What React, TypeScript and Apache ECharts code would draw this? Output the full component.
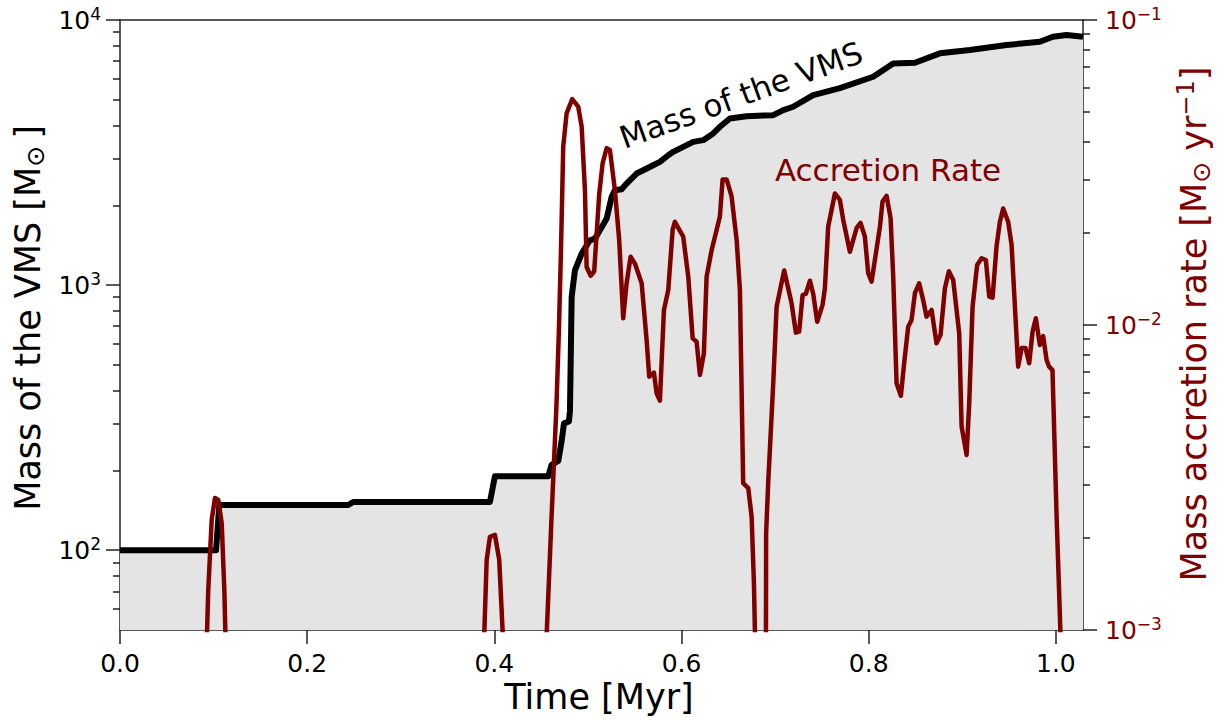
import React, { useEffect, useRef } from 'react';
import * as echarts from 'echarts';

// ---- data ----
const X_MIN = 0;
const X_MAX = 1.029;
const MASS_MIN = 50;
const MASS_MAX = 10000;
const RATE_MIN = 0.001;
const RATE_MAX = 0.1;

const massTime = [
  0, 0.1026, 0.1061, 0.2439, 0.2492, 0.3953, 0.4006, 0.4576, 0.4612, 0.4683,
  0.4719, 0.4744, 0.4797, 0.4808, 0.4826, 0.4861, 0.4933, 0.5021, 0.5075, 0.5128,
  0.52, 0.5253, 0.5288, 0.536, 0.5413, 0.552, 0.5591, 0.5697, 0.5769, 0.5858,
  0.5911, 0.6018, 0.6125, 0.6232, 0.6339, 0.641, 0.6517, 0.6695, 0.698, 0.7087,
  0.7193, 0.7407, 0.7692, 0.8048, 0.8262, 0.8494, 0.8761, 0.9081, 0.9473, 0.9829,
  0.9968, 1.0114, 1.029,
];
const massValue = [
  100, 100, 148, 148, 152, 152, 190, 190, 210, 217,
  258, 301, 306, 336, 902, 1137, 1315, 1476, 1497, 1610,
  1782, 2151, 2280, 2300, 2416, 2635, 2712, 2833, 2915, 3090,
  3182, 3322, 3470, 3522, 3733, 3955, 4252, 4338, 4375, 4571,
  4706, 5208, 5535, 6107, 6858, 6900, 7485, 7707, 8047, 8277,
  8648, 8777, 8650,
];

const rate1Time = [0.0926, 0.0943, 0.098, 0.1015, 0.105, 0.1087, 0.1115, 0.1129];
const rate1Value = [0.0009, 0.00135, 0.0023, 0.00271, 0.00267, 0.00224, 0.00135, 0.0009];

const rate2Time = [0.3889, 0.3918, 0.3953, 0.4006, 0.4052, 0.4095];
const rate2Value = [0.0009, 0.0017, 0.00202, 0.00205, 0.0017, 0.0009];

const rate3Time = [
  0.4555, 0.461, 0.4663, 0.469, 0.4712, 0.4736, 0.4772, 0.4832, 0.4896, 0.4933,
  0.4968, 0.4986, 0.5029, 0.5067, 0.5121, 0.5157, 0.52, 0.5235, 0.5288, 0.5334,
  0.5377, 0.5413, 0.5456, 0.5502, 0.5574, 0.5627, 0.5655, 0.5705, 0.5734, 0.5769,
  0.5812, 0.5858, 0.5905, 0.5929, 0.6018, 0.6072, 0.6119, 0.6161, 0.6197, 0.6239,
  0.6268, 0.6322, 0.6375, 0.641, 0.6439, 0.6482, 0.6535, 0.6589, 0.6624, 0.6659,
  0.6713, 0.6749, 0.6774, 0.6787,
];
const rate3Value = [
  0.0009, 0.0023, 0.00538, 0.00964, 0.0176, 0.0384, 0.0494, 0.055, 0.052, 0.0447,
  0.0277, 0.0155, 0.0145, 0.015, 0.027, 0.0339, 0.038, 0.0375, 0.0277, 0.019,
  0.01052, 0.0137, 0.01675, 0.0159, 0.0137, 0.00893, 0.00677, 0.00698, 0.00597, 0.00565,
  0.0112, 0.013, 0.0205, 0.0218, 0.0195, 0.0144, 0.00904, 0.00882, 0.00686, 0.00807,
  0.0144, 0.0176, 0.0205, 0.0227, 0.03, 0.03, 0.0264, 0.019, 0.013, 0.00303,
  0.00292, 0.00235, 0.00142, 0.0009,
];

const rate4Time = [
  0.6902, 0.6904, 0.6926, 0.698, 0.7016, 0.7097, 0.7176, 0.7222, 0.7257, 0.7294,
  0.7329, 0.7372, 0.7407, 0.745, 0.7507, 0.7532, 0.7567, 0.7639, 0.7692, 0.7728,
  0.7799, 0.7871, 0.7913, 0.7959, 0.7995, 0.8031, 0.8077, 0.812, 0.8148, 0.8191,
  0.8234, 0.8262, 0.8298, 0.8344, 0.8379, 0.8422, 0.8458, 0.8494, 0.8539, 0.8582,
  0.8618, 0.8672, 0.8725, 0.8768, 0.8814, 0.8857, 0.8903, 0.8967, 0.8993, 0.9046,
  0.9074, 0.911, 0.9159, 0.9206, 0.9252, 0.9288, 0.9324, 0.9366, 0.9402, 0.9437,
  0.949, 0.9527, 0.9597, 0.9634, 0.9676, 0.9715, 0.9751, 0.9786, 0.9829, 0.9864,
  0.9901, 0.9928, 0.9964, 1.0007, 1.0053,
];
const rate4Value = [
  0.0009, 0.00207, 0.00303, 0.00644, 0.01148, 0.0151, 0.01178, 0.00944, 0.00951, 0.01254,
  0.01266, 0.01397, 0.01266, 0.01025, 0.01164, 0.01318, 0.021, 0.027, 0.0257, 0.0221,
  0.01738, 0.0208, 0.0216, 0.0195, 0.01478, 0.01387, 0.01718, 0.021, 0.0254, 0.0265,
  0.0224, 0.0144, 0.00644, 0.00586, 0.00749, 0.00987, 0.01038, 0.01271, 0.0137, 0.01208,
  0.01065, 0.0112, 0.00871, 0.00928, 0.01318, 0.015, 0.01405, 0.0094, 0.00464, 0.00375,
  0.00553, 0.01148, 0.01574, 0.01655, 0.01633, 0.0124, 0.0123, 0.0181, 0.0218, 0.0241,
  0.0218, 0.0183, 0.0073, 0.0084, 0.0084, 0.00749, 0.0095, 0.01052, 0.0086, 0.0092,
  0.00768, 0.0073, 0.00711, 0.00241, 0.0009,
];

const xTicks = [0, 0.2, 0.4, 0.6, 0.8, 1.0];
const leftMajorTicks = [100, 1000, 10000];
const leftMinorTicks = [60, 70, 80, 90, 200, 300, 400, 500, 600, 700, 800, 900, 2000, 3000, 4000, 5000, 6000, 7000, 8000, 9000];
const rightMajorTicks = [0.001, 0.01, 0.1];
const rightMinorTicks = [0.002, 0.003, 0.004, 0.005, 0.006, 0.007, 0.008, 0.009, 0.02, 0.03, 0.04, 0.05, 0.06, 0.07, 0.08, 0.09];

// ---- styles ----
const FONT = "'DejaVu Sans', sans-serif";
const MAROON = '#800000';
const SPINE = '#222';

const zip = (t: number[], v: number[]) => t.map((x, i) => [x, v[i]]);

export default function App() {
  const ref = useRef<HTMLDivElement>(null);

  useEffect(() => {
    if (!ref.current) return;
    const chart = echarts.init(ref.current, null, { renderer: 'svg' });

    const spineLine = { show: true, onZero: false, lineStyle: { color: SPINE, width: 1.5 } };
    const tickStyle = { color: SPINE, width: 1.5 };

    const tickAxis = (pos: 'left' | 'right', min: number, max: number, values: number[], len: number, label: any) => ({
      type: 'value',
      position: pos,
      min,
      max,
      axisLine: { show: false, onZero: false },
      axisTick: { show: true, customValues: values.map((v) => Math.log10(v)), length: len, lineStyle: tickStyle },
      axisLabel: label
        ? { show: true, customValues: values.map((v) => Math.log10(v)), ...label }
        : { show: false },
      splitLine: { show: false },
    });

    const richLabel = (color: string) => ({
      fontFamily: FONT,
      color,
      rich: {
        b: { fontSize: 25, lineHeight: 30, fontFamily: FONT, color },
        s: { fontSize: 17, lineHeight: 14, verticalAlign: 'top', fontFamily: FONT, color },
      },
    });

    const redSeries = [
      zip(rate1Time, rate1Value),
      zip(rate2Time, rate2Value),
      zip(rate3Time, rate3Value),
      zip(rate4Time, rate4Value),
    ].map((d) => ({
      type: 'line',
      xAxisIndex: 0,
      yAxisIndex: 1,
      data: d,
      showSymbol: false,
      symbol: 'none',
      clip: true,
      z: 3,
      lineStyle: { color: MAROON, width: 4.5, join: 'round', cap: 'butt' },
    }));

    const option: any = {
      animation: false,
      backgroundColor: '#ffffff',
      grid: { left: 120, right: 138, top: 20, bottom: 90, containLabel: false },
      xAxis: [
        {
          type: 'value',
          min: X_MIN,
          max: X_MAX,
          position: 'bottom',
          axisLine: spineLine,
          axisTick: { show: true, customValues: xTicks, length: 14, lineStyle: tickStyle },
          axisLabel: {
            show: true,
            customValues: xTicks,
            formatter: (v: number) => v.toFixed(1),
            fontSize: 25,
            color: '#000',
            fontFamily: FONT,
            margin: 21,
          },
          splitLine: { show: false },
        },
        {
          type: 'value',
          min: X_MIN,
          max: X_MAX,
          position: 'top',
          axisLine: spineLine,
          axisTick: { show: false },
          axisLabel: { show: false },
          splitLine: { show: false },
        },
      ],
      yAxis: [
        {
          type: 'log',
          logBase: 10,
          min: MASS_MIN,
          max: MASS_MAX,
          position: 'left',
          axisLine: spineLine,
          axisTick: { show: false },
          axisLabel: { show: false },
          splitLine: { show: false },
        },
        {
          type: 'log',
          logBase: 10,
          min: RATE_MIN,
          max: RATE_MAX,
          position: 'right',
          axisLine: spineLine,
          axisTick: { show: false },
          axisLabel: { show: false },
          splitLine: { show: false },
        },
        tickAxis('left', Math.log10(MASS_MIN), Math.log10(MASS_MAX), leftMajorTicks, 14, {
          margin: 19,
          formatter: (v: number) => `{b|10}{s|${Math.round(v)}}`,
          ...richLabel('#000'),
        }),
        tickAxis('left', Math.log10(MASS_MIN), Math.log10(MASS_MAX), leftMinorTicks, 7, null),
        tickAxis('right', Math.log10(RATE_MIN), Math.log10(RATE_MAX), rightMajorTicks, 14, {
          margin: 22,
          formatter: (v: number) => `{b|10}{s|\u2212${Math.abs(Math.round(v))}}`,
          ...richLabel(MAROON),
        }),
        tickAxis('right', Math.log10(RATE_MIN), Math.log10(RATE_MAX), rightMinorTicks, 7, null),
      ],
      series: [
        {
          type: 'line',
          xAxisIndex: 0,
          yAxisIndex: 0,
          data: zip(massTime, massValue),
          showSymbol: false,
          symbol: 'none',
          z: 2,
          lineStyle: { color: '#000', width: 6, join: 'round', cap: 'butt' },
          areaStyle: { color: '#e4e4e4', opacity: 1, origin: 'start' },
        },
        ...redSeries,
      ],
      graphic: [
        {
          type: 'text',
          x: 599,
          y: 697,
          z: 10,
          style: {
            text: 'Time [Myr]',
            fontSize: 35,
            fontFamily: FONT,
            fill: '#000',
            align: 'center',
            verticalAlign: 'middle',
          },
        },
        {
          type: 'text',
          x: 28,
          y: 318,
          rotation: Math.PI / 2,
          z: 10,
          style: {
            text: '{n|Mass of the VMS [M}{sub|\u2299}{n|\u2009]}',
            fontFamily: FONT,
            fill: '#000',
            align: 'center',
            verticalAlign: 'middle',
            rich: {
              n: { fontSize: 35, lineHeight: 40, fontFamily: FONT, fill: '#000' },
              sub: { fontSize: 25, lineHeight: 22, verticalAlign: 'bottom', fontFamily: FONT, fill: '#000' },
            },
          },
        },
        {
          type: 'text',
          x: 1194,
          y: 324,
          rotation: Math.PI / 2,
          z: 10,
          style: {
            text: '{n|Mass accretion rate [M}{sub|\u2299}{n| yr}{sup|\u22121}{n|]}',
            fontFamily: FONT,
            fill: MAROON,
            align: 'center',
            verticalAlign: 'middle',
            rich: {
              n: { fontSize: 35, lineHeight: 40, fontFamily: FONT, fill: MAROON },
              sub: { fontSize: 25, lineHeight: 22, verticalAlign: 'bottom', fontFamily: FONT, fill: MAROON },
              sup: { fontSize: 24, lineHeight: 16, verticalAlign: 'top', fontFamily: FONT, fill: MAROON },
            },
          },
        },
        {
          type: 'text',
          x: 741,
          y: 95,
          rotation: (20 * Math.PI) / 180,
          z: 10,
          style: {
            text: 'Mass of the VMS',
            fontSize: 31,
            fontFamily: FONT,
            fill: '#000',
            align: 'center',
            verticalAlign: 'middle',
          },
        },
        {
          type: 'text',
          x: 888,
          y: 170,
          z: 10,
          style: {
            text: 'Accretion Rate',
            fontSize: 31,
            fontFamily: FONT,
            fill: MAROON,
            align: 'center',
            verticalAlign: 'middle',
          },
        },
      ],
    };

    chart.setOption(option);
    return () => chart.dispose();
  }, []);

  return (
    <div
      ref={ref}
      style={{ position: 'absolute', left: 0, top: 0, width: 1221, height: 720, background: '#fff' }}
    />
  );
}
